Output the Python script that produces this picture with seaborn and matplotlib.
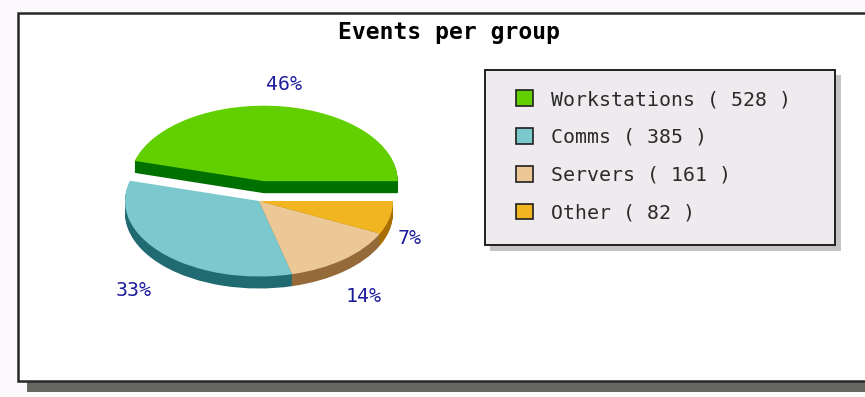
import numpy as np
import matplotlib
matplotlib.use("Agg")
import matplotlib.pyplot as plt
from matplotlib.patches import Patch, Rectangle
import seaborn as sns

# Data
groups = ["Workstations", "Comms", "Servers", "Other"]
counts = [528, 385, 161, 82]
title = "Events per group"

# Styles
top_colors = sns.color_palette(["#62d000", "#7cc8cf", "#edc897", "#f0b520"])
side_colors = sns.color_palette(["#007000", "#206a72", "#946a38", "#a86e00"])
explode = [0.265, 0, 0, 0]
label_px = [(284, 84), (134, 290), (364, 296), (410, 239)]
CX, CY, RX, RY, DEPTH = 259, 201, 134, 75.5, 12
W, H = 865, 397

sns.set_theme(style="white")
plt.rcParams["font.family"] = ["DejaVu Sans Mono"]

fig = plt.figure(figsize=(W / 100, H / 100), dpi=100, facecolor="#fbf9fb")

# Page layer in pixel coordinates
bg = fig.add_axes([0, 0, 1, 1])
bg.set_xlim(0, W)
bg.set_ylim(H, 0)
bg.axis("off")
bg.add_patch(Rectangle((27, 24), 860, 368, fc="#666860", ec="none", zorder=1))
bg.add_patch(Rectangle((17.5, 12.5), 860, 368, fc="white", ec="#282828", lw=1.8, zorder=2))
bg.add_patch(Rectangle((490, 75), 351, 176, fc="#c4c4c4", ec="none", zorder=3))
bg.add_patch(Rectangle((484.5, 69.5), 350, 175, fc="#eeeaee", ec="#202020", lw=1.4, zorder=4))
bg.text(448.5, 33, title, ha="center", va="center", fontsize=16.6,
        fontweight="bold", color="black", zorder=5)

# Pie layer: one data unit is one radius
ax = fig.add_axes([0, 0, 1, 1])
ax.patch.set_alpha(0)
for d in np.arange(DEPTH, 0, -1.0):
    ax.pie(counts, explode=explode, colors=side_colors, startangle=0,
           center=(0, -d / RY), wedgeprops={"linewidth": 0}, normalize=True)
wedges, _ = ax.pie(counts, explode=explode, colors=top_colors, startangle=0,
                   center=(0, 0), wedgeprops={"linewidth": 0}, normalize=True)
ax.set_aspect("auto")
ax.set_xlim(-CX / RX, (W - CX) / RX)
ax.set_ylim(-(H - CY) / RY, CY / RY)
ax.axis("off")

# Percent labels
total = sum(counts)
for v, (px, py) in zip(counts, label_px):
    bg.text(px, py, f"{round(v / total * 100)}%", ha="center", va="center",
            fontsize=14.3, color="#1c1c9c", zorder=6)

# Legend
handles = [Patch(facecolor=c, edgecolor="#202020", linewidth=1.2) for c in top_colors]
labels = [f"{g} ( {v} )" for g, v in zip(groups, counts)]
leg = bg.legend(handles, labels, loc="upper left", bbox_to_anchor=(516, 90),
                bbox_transform=bg.transData, frameon=False, fontsize=14.3,
                borderpad=0, borderaxespad=0, handlelength=0.85, handleheight=0.85,
                handletextpad=0.9, labelspacing=0.945, labelcolor="#2a2a2a")
leg.set_zorder(7)

fig.savefig("out.png", dpi=100, facecolor=fig.get_facecolor())
